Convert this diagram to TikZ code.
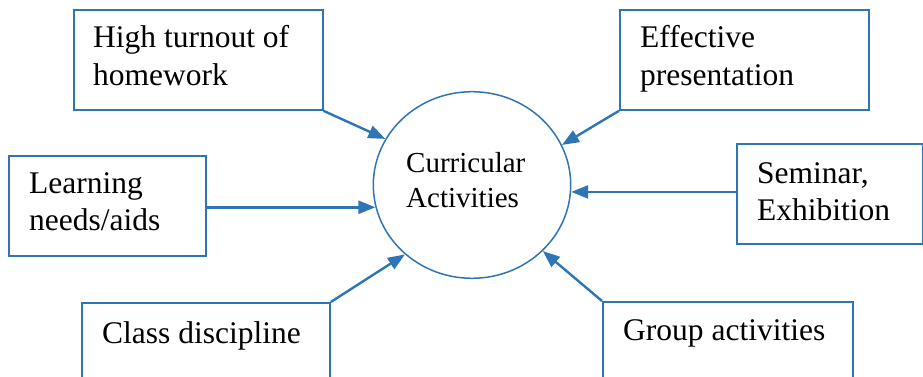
\documentclass[tikz,border=0pt]{standalone}
\usepackage{fontspec}
\setmainfont{Liberation Serif}
\newfontfamily\timesfont{Liberation Serif}
\usetikzlibrary{arrows.meta,shapes.geometric}
\definecolor{lineblue}{RGB}{46,117,182}
\begin{document}
\begin{tikzpicture}[x=1pt,y=-1pt,
  box/.style={draw=lineblue, line width=1.8pt, rectangle, inner sep=0pt, anchor=north west},
  hub/.style={draw=lineblue, line width=1.5pt, ellipse, inner sep=0pt, minimum width=197.4pt, minimum height=186.6pt},
  boxtext/.style={anchor=base west, inner sep=0pt, font=\timesfont\fontsize{31.5}{37.5}\selectfont},
  hubtext/.style={anchor=base west, inner sep=0pt, font=\timesfont\fontsize{29}{35}\selectfont},
  link/.style={draw=lineblue, line width=2.4pt, -{Triangle[length=17pt,width=13pt]}}]
\useasboundingbox (0,0) rectangle (923,377);
\clip (0,0) rectangle (923,377);
% boxes
\node[box, minimum width=249pt, minimum height=100pt] (b1) at (72.7,9) {};
\node[box, minimum width=249pt, minimum height=100pt] (b2) at (619,9) {};
\node[box, minimum width=197pt, minimum height=100pt] (b3) at (8,155) {};
\node[box, minimum width=185.5pt, minimum height=100pt] (b4) at (736,143) {};
\node[box, minimum width=248pt, minimum height=100pt] (b5) at (81,302) {};
\node[box, minimum width=250pt, minimum height=100pt] (b6) at (602,301) {};
% hub
\node[hub] (hub) at (472,185) {};
% texts
\node[boxtext] (t1) at (93,48) {\begin{tabular}[t]{@{}l@{}}High turnout of\\homework\end{tabular}};
\node[boxtext] (t2) at (640,48) {\begin{tabular}[t]{@{}l@{}}Effective\\presentation\end{tabular}};
\node[boxtext] (t3) at (29,193) {\begin{tabular}[t]{@{}l@{}}Learning\\needs/aids\end{tabular}};
\node[boxtext] (t4) at (757,183) {\begin{tabular}[t]{@{}l@{}}Seminar,\\Exhibition\end{tabular}};
\node[boxtext] (t5) at (102,343) {Class discipline};
\node[boxtext] (t6) at (623,340) {Group activities};
\node[hubtext] (th) at (406,172) {\begin{tabular}[t]{@{}l@{}}Curricular\\Activities\end{tabular}};
% connectors
\draw[link] (b1.south east) -- (hub.152.9);
\draw[link] (b2.south west) -- (hub.24.9);
\draw[link] (b3.east |- hub.193) -- (hub.193);
\draw[link] (b4.west |- hub.356) -- (hub.356);
\draw[link] (b5.north east) -- (hub.226.6);
\draw[link] (b6.north west) -- (hub.317.1);
\end{tikzpicture}
\end{document}
